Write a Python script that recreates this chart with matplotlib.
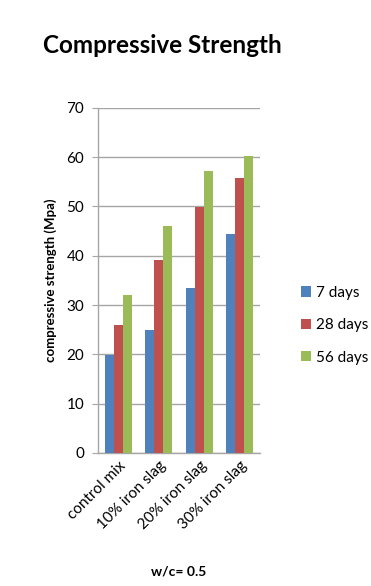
import matplotlib
matplotlib.use("Agg")
import matplotlib.pyplot as plt
import numpy as np

plt.rcParams["font.family"] = ["Lato", "DejaVu Sans"]

categories = ["control mix", "10% iron slag", "20% iron slag", "30% iron slag"]
series_names = ["7 days", "28 days", "56 days"]
days_7 = [19.8, 25.0, 33.5, 44.4]
days_28 = [26.0, 39.2, 49.9, 55.7]
days_56 = [32.0, 46.0, 57.1, 60.2]
colors = ["#4F81BD", "#C0504D", "#9BBB59"]

fig = plt.figure(figsize=(3.71, 5.86), dpi=100)
ax = fig.add_axes([0.264, 0.227, 0.437, 0.589])

x = np.arange(len(categories))
width = 0.22
for i, (vals, name, col) in enumerate(zip([days_7, days_28, days_56], series_names, colors)):
    ax.bar(x + (i - 1) * width, vals, width, color=col, label=name, zorder=3)

ax.set_xlim(-0.5, len(categories) - 0.5)
ax.set_ylim(0, 70)
ax.set_yticks(np.arange(0, 71, 10))
ax.yaxis.grid(True, color="#a6a6a6", linewidth=1.0, zorder=0)
ax.set_axisbelow(True)

for side in ["top", "right"]:
    ax.spines[side].set_visible(False)
for side in ["left", "bottom"]:
    ax.spines[side].set_color("#a6a6a6")
    ax.spines[side].set_linewidth(1.0)

ax.tick_params(axis="y", length=4, color="#a6a6a6", labelsize=11, pad=6)
ax.tick_params(axis="x", length=0, labelsize=11, pad=4)
ax.set_xticks(x)
ax.set_xticklabels(categories, rotation=45, ha="right", rotation_mode="anchor")

ax.set_ylabel("compressive strength (Mpa)", fontsize=9.5, fontweight="bold", labelpad=7)
ax.set_xlabel("w/c= 0.5", fontsize=10, fontweight="bold", labelpad=24)

fig.text(0.115, 0.923, "Compressive Strength", fontsize=17.5, fontweight="bold", va="center")

leg = fig.legend(loc="center left", bbox_to_anchor=(0.775, 0.445), frameon=False,
                 fontsize=11, handlelength=0.65, handleheight=0.65, handletextpad=0.3,
                 labelspacing=1.2)

fig.savefig("out.png", dpi=100)
